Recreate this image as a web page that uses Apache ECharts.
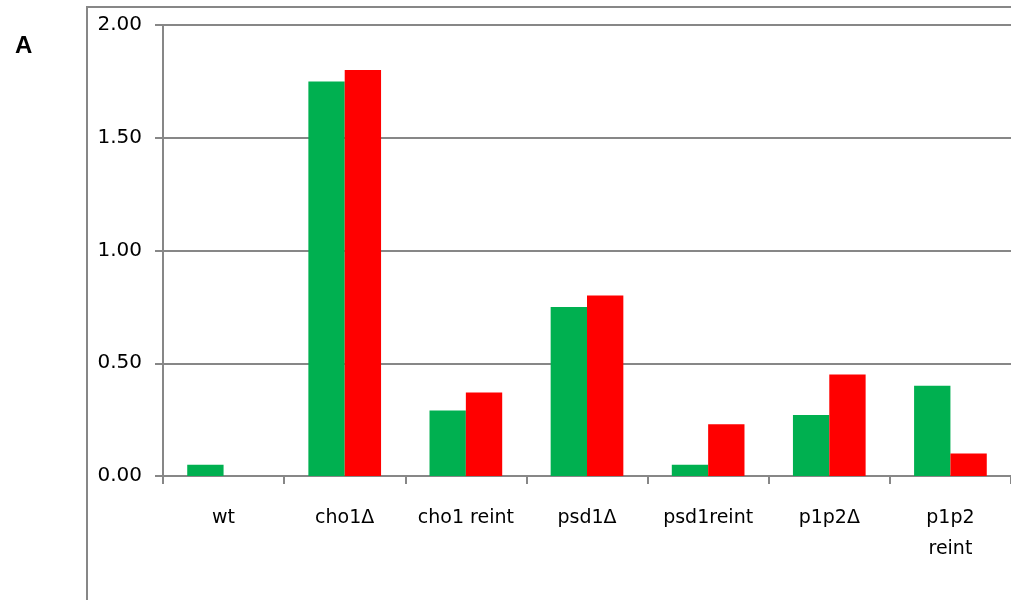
<!DOCTYPE html>
<html>
<head>
<meta charset="utf-8">
<script src="https://cdn.jsdelivr.net/npm/echarts@6/dist/echarts.min.js"></script>
<style>html,body{margin:0;padding:0;background:#fff}#c{width:1011px;height:600px}</style>
</head>
<body>
<div id="c"></div>
<script>
const categories = ['wt', 'cho1Δ', 'cho1 reint', 'psd1Δ', 'psd1reint', 'p1p2Δ', 'p1p2\nreint'];
const seriesGreen = [0.05, 1.75, 0.29, 0.75, 0.05, 0.27, 0.40];
const seriesRed = [0.00, 1.80, 0.37, 0.80, 0.23, 0.45, 0.10];

const chart = echarts.init(document.getElementById('c'), null, {renderer: 'canvas'});
const gray = '#878787';
chart.setOption({
  animation: false,
  backgroundColor: '#fff',
  textStyle: {fontFamily: 'DejaVu Sans'},
  grid: {left: 163, right: 0, top: 25, bottom: 124, containLabel: false},
  graphic: [
    {type: 'line', shape: {x1: 87, y1: 7, x2: 87, y2: 600}, style: {stroke: gray, lineWidth: 2}},
    {type: 'line', shape: {x1: 86, y1: 7, x2: 1011, y2: 7}, style: {stroke: gray, lineWidth: 2}},
    {type: 'text', x: 15, y: 46, style: {text: 'A', font: 'bold 24px "Liberation Sans"', fill: '#000', verticalAlign: 'middle', align: 'left'}}
  ],
  xAxis: {
    type: 'category',
    data: categories,
    axisLine: {lineStyle: {color: gray, width: 2}},
    axisTick: {show: true, length: 8, lineStyle: {color: gray, width: 2}},
    axisLabel: {color: '#000', fontSize: 19, margin: 27, lineHeight: 31, interval: 0, fontFamily: 'DejaVu Sans'}
  },
  yAxis: {
    type: 'value',
    min: 0, max: 2, interval: 0.5,
    axisLine: {show: true, lineStyle: {color: gray, width: 2}},
    axisTick: {show: true, length: 8, lineStyle: {color: gray, width: 2}},
    axisLabel: {color: '#000', fontSize: 20, margin: 21, fontFamily: 'DejaVu Sans', formatter: v => v.toFixed(2)},
    splitLine: {show: true, lineStyle: {color: gray, width: 2}}
  },
  series: [
    {type: 'bar', data: seriesGreen, itemStyle: {color: '#00b050'}, barGap: '0%', barCategoryGap: '40%'},
    {type: 'bar', data: seriesRed, itemStyle: {color: '#ff0000'}, barGap: '0%', barCategoryGap: '40%'}
  ]
});
</script>
</body>
</html>
